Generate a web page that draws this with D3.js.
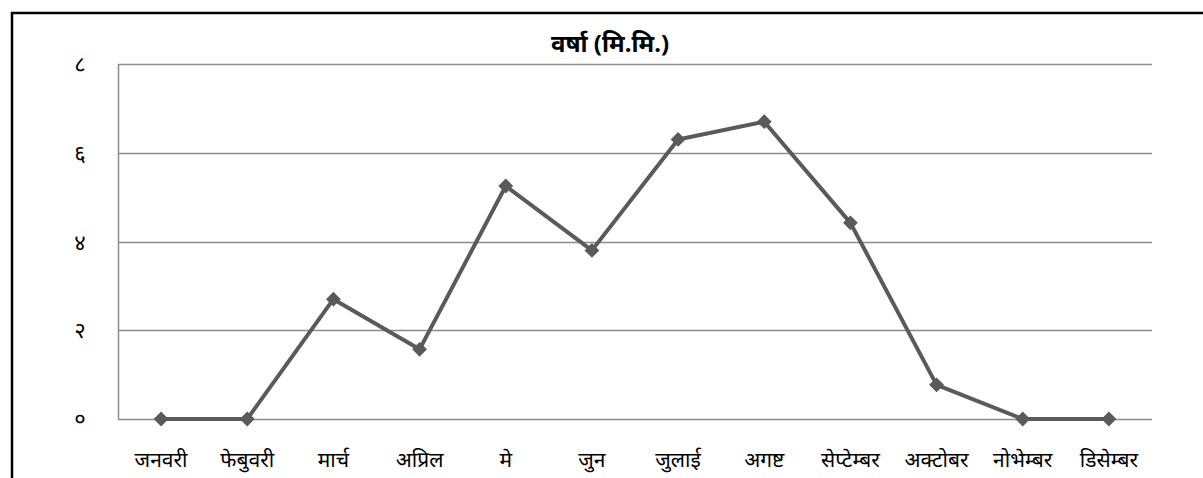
<!DOCTYPE html>
<html>
<head>
<meta charset="utf-8">
<script src="https://cdn.jsdelivr.net/npm/d3@7"></script>
<style>
  html, body { margin: 0; padding: 0; background: #fff; }
  svg { display: block; }
  text { font-family: "Noto Sans", "Noto Sans Devanagari", "Lohit Devanagari", sans-serif; fill: #000; }
</style>
</head>
<body>
<div id="chart"></div>
<script>
// rainfall by month (mm)
const months = ["जनवरी", "फेबुवरी", "मार्च", "अप्रिल", "मे", "जुन", "जुलाई", "अगष्ट", "सेप्टेम्बर", "अक्टोबर", "नोभेम्बर", "डिसेम्बर"];
const rainfall = [0, 0, 2.7, 1.57, 5.25, 3.8, 6.3, 6.7, 4.42, 0.77, 0, 0];
const yTicks = [0, 2, 4, 6, 8];
const yTickLabels = ["०", "२", "४", "६", "८"];
const chartTitle = "वर्षा (मि.मि.)";

const width = 1203, height = 478;
const margin = { top: 64, right: 51, bottom: 59, left: 118 };

const svg = d3.select('#chart').append('svg')
    .attr('width', width)
    .attr('height', height);

// outer chart frame (only left and top edges fall inside the picture)
svg.append('rect')
    .attr('x', 12).attr('y', 13)
    .attr('width', width + 20).attr('height', height + 20)
    .attr('fill', 'none')
    .attr('stroke', '#000')
    .attr('stroke-width', 2.5);

const x = d3.scaleBand()
    .domain(months)
    .range([margin.left, width - margin.right])
    .padding(0);

const y = d3.scaleLinear()
    .domain([0, 8])
    .range([height - margin.bottom, margin.top]);

// gridlines
svg.append('g')
    .selectAll('line')
    .data(yTicks)
    .join('line')
    .attr('x1', margin.left)
    .attr('x2', width - margin.right)
    .attr('y1', d => Math.round(y(d)) + 0.5)
    .attr('y2', d => Math.round(y(d)) + 0.5)
    .attr('stroke', '#8c8c8c')
    .attr('stroke-width', 1.5);

// vertical axis line
svg.append('line')
    .attr('x1', margin.left + 0.5).attr('x2', margin.left + 0.5)
    .attr('y1', y(8)).attr('y2', y(0))
    .attr('stroke', '#8c8c8c')
    .attr('stroke-width', 1.5);

// y labels
svg.append('g')
    .selectAll('text')
    .data(yTicks)
    .join('text')
    .attr('x', 80)
    .attr('y', d => y(d) + 8)
    .attr('text-anchor', 'middle')
    .style('font-size', '22px')
    .text((d, i) => yTickLabels[i]);

// x labels
svg.append('g')
    .selectAll('text')
    .data(months)
    .join('text')
    .attr('x', d => x(d) + x.bandwidth() / 2)
    .attr('y', 467)
    .attr('text-anchor', 'middle')
    .style('font-size', '21px')
    .text(d => d);

// title
svg.append('text')
    .attr('x', 610)
    .attr('y', 52)
    .attr('text-anchor', 'middle')
    .style('font-size', '24px')
    .style('font-weight', 'bold')
    .text(chartTitle);

const cx = (d, i) => x(months[i]) + x.bandwidth() / 2;

const line = d3.line()
    .x((d, i) => cx(d, i))
    .y(d => y(d));

svg.append('path')
    .datum(rainfall)
    .attr('fill', 'none')
    .attr('stroke', '#5a5a5a')
    .attr('stroke-width', 4)
    .attr('stroke-linejoin', 'round')
    .attr('d', line);

svg.append('g')
    .selectAll('path')
    .data(rainfall)
    .join('path')
    .attr('transform', (d, i) => `translate(${cx(d, i)},${y(d)})`)
    .attr('d', d3.symbol(d3.symbolDiamond2, 140))
    .attr('fill', '#5a5a5a');
</script>
</body>
</html>
